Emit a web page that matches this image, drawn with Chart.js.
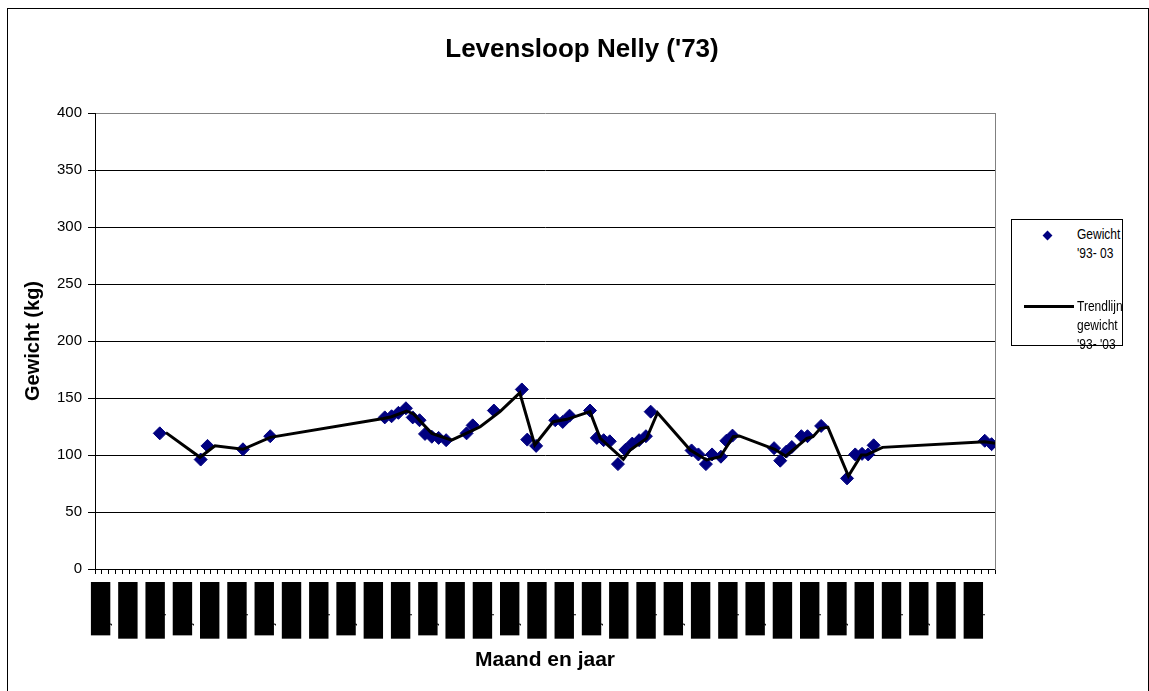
<!DOCTYPE html>
<html lang="nl">
  <head>
    <meta charset="UTF-8" />
    <title>Levensloop Nelly ('73)</title>
    <style>
      body { margin: 0; background: #fff; }
      .kader {
        position: absolute; left: 7px; top: 8px;
        width: 1142px; height: 700px;
        box-sizing: border-box; border: 1px solid #000;
      }
      .grafiek { position: absolute; left: 0; top: 0; width: 1149px; height: 691px; }
      .legenda {
        position: absolute; left: 1011px; top: 219px;
        width: 112px; height: 127px; box-sizing: border-box;
        border: 1px solid #000; background: #fff;
        font-family: Arial, "Liberation Sans", sans-serif; font-size: 15px; line-height: 19px;
      }
      .legenda .tekst { position: absolute; left: 65px; transform: scaleX(0.8); transform-origin: left top; white-space: nowrap; }
      .ruit {
        position: absolute; left: 32px; top: 12px; width: 7px; height: 7px;
        background: #000080; transform: rotate(45deg);
      }
      .lijn { position: absolute; left: 12px; top: 85px; width: 50px; height: 3px; background: #000; }
    </style>
  </head>
  <body>
    <div class="kader"></div>
    <div class="grafiek"><canvas id="myChart_gewicht" width="1149" height="691"></canvas></div>
    <div class="legenda">
      <div class="ruit"></div>
      <div class="tekst" style="top:4px">Gewicht<br>'93- 03</div>
      <div class="lijn"></div>
      <div class="tekst" style="top:76px">Trendlijn<br>gewicht<br>'93- '03</div>
    </div>

    <script src="https://cdn.jsdelivr.net/npm/chart.js@4.4.1/dist/chart.umd.min.js"></script>
    <script>
      // maanden en jaren voor de x-as (jan-93 t/m dec-03)
      const maanden = ['jan','feb','mrt','apr','mei','jun','jul','aug','sep','okt','nov','dec'];
      const jaren = ['93','94','95','96','97','98','99','00','01','02','03'];
      const maandLabels = jaren.flatMap(j => maanden.map(m => m + '-' + j));

      // gewicht metingen: maand-index (vanaf jan-93) en kg
      const gewichtMaand = [9, 15, 16, 21.2, 25.2, 42, 43, 44, 45.1, 46.1, 47.1, 47.9, 48.9, 49.9, 51,
        54, 54.9, 58, 62.1, 62.9, 64.2, 67, 68.1, 69.1, 72.1, 73.1, 74.1, 75, 76.2, 77.3, 78.3, 79.3,
        80.3, 81, 87, 88, 89.1, 90, 91.3, 92.1, 93, 99.1, 100, 100.9, 101.7, 103.1, 104, 106, 109.8,
        111, 112, 112.9, 113.7, 130, 131];
      const gewichtKg = [119, 96, 108, 105, 116.5, 133, 134, 137, 141, 133, 130.5, 118.5, 116, 115, 113,
        119, 126, 139, 157.5, 113.5, 108, 130.5, 129, 134.5, 139, 115, 113, 112, 92, 104.5, 110, 113,
        116.5, 138, 104, 100.5, 92, 100.5, 98.5, 112.5, 117, 106, 95, 103, 107, 116.5, 116.5, 125.5, 79.5,
        100.5, 101, 100.5, 108.5, 112.5, 109.5];

      // trendlijn
      const trendMaand = [9.9, 14.9, 17.1, 21.2, 25.2, 41.8, 43, 45.2, 46.2, 48.9, 51.8, 54.5, 56, 58.9,
        61.8, 64, 66.7, 68.7, 72.1, 73.6, 77, 78, 80.4, 82, 86.8, 89.2, 91.2, 93.1, 94, 99.2, 100.8,
        103.9, 104.8, 105.9, 107, 110, 111.9, 112.6, 115, 130, 131.5];
      const trendKg = [119.6, 98, 108, 105, 115.5, 132, 133.6, 138.6, 136, 119, 113, 120.5, 124.8, 138,
        154.5, 108.8, 129.2, 131.3, 138, 114.6, 96.2, 104.4, 114.6, 137.1, 104.4, 95.6, 98.5, 116, 116.7,
        105, 99, 114.6, 116, 123.4, 124.3, 81.6, 100, 100, 106.7, 111.7, 110.2];

      const yTicks = [0, 50, 100, 150, 200, 250, 300, 350, 400];

      const lettertype = 'Arial, "Liberation Sans", sans-serif';
      Chart.defaults.font.family = lettertype;
      Chart.defaults.color = '#000';

      const ctx_gewicht = document.getElementById('myChart_gewicht');

      new Chart(ctx_gewicht, {
        type: 'scatter',
        data: {
          datasets: [
            {
              label: "Trendlijn gewicht '93- '03",
              type: 'line',
              xAxisID: 'x2',
              data: trendMaand.map((m, i) => ({ x: m, y: trendKg[i] })),
              borderColor: '#000',
              borderWidth: 3,
              pointRadius: 0,
              fill: false,
              tension: 0
            },
            {
              label: "Gewicht '93- 03",
              xAxisID: 'x2',
              data: gewichtMaand.map((m, i) => ({ x: m, y: gewichtKg[i] })),
              pointStyle: 'rectRot',
              pointRadius: 6.5,
              pointHoverRadius: 6.5,
              backgroundColor: '#000080',
              borderColor: '#000080',
              borderWidth: 1
            }
          ]
        },
        options: {
          responsive: false,
          animation: false,
          layout: { padding: { left: 15, right: 0, top: 0, bottom: 0 } },
          plugins: {
            legend: { display: false },
            tooltip: { enabled: false },
            title: {
              display: true,
              text: "Levensloop Nelly ('73)",
              font: { size: 26, weight: 'bold' },
              color: '#000',
              padding: { top: 34, bottom: 47.8 }
            }
          },
          scales: {
            x: {
              type: 'category',
              labels: maandLabels,
              offset: true,
              position: 'bottom',
              grid: { offset: true, drawOnChartArea: false, tickLength: 5, color: '#000' },
              border: { color: '#000' },
              ticks: {
                autoSkip: false,
                minRotation: 90,
                maxRotation: 90,
                padding: 18,
                font: { size: 12 },
                color: '#000',
                showLabelBackdrop: true,
                backdropColor: c => (c.index % 4 === 0 ? '#000' : 'rgba(0,0,0,0)'),
                backdropPadding: { top: 7.5, bottom: -2.5, left: 10, right: 10 },
                callback: function (value, index) {
                  return index % 4 === 0 ? maandLabels[index] : '';
                }
              },
              title: {
                display: true,
                text: 'Maand en jaar',
                font: { size: 21, weight: 'bold' },
                color: '#000',
                padding: { top: 0, bottom: 18 }
              },
              afterFit: s => { s.height = 122; }
            },
            x2: {
              type: 'linear',
              display: false,
              min: -0.5,
              max: 131.5
            },
            y: {
              min: 0,
              max: 400,
              afterBuildTicks: s => { s.ticks = yTicks.map(v => ({ value: v })); },
              grid: {
                color: c => (c.tick && c.tick.value === 400 ? '#808080' : '#000'),
                tickLength: 7,
                tickColor: '#000'
              },
              border: { color: '#000' },
              ticks: { padding: 6, font: { size: 15 }, color: '#000' },
              title: {
                display: true,
                text: 'Gewicht (kg)',
                font: { size: 20, weight: 'bold' },
                color: '#000',
                padding: { top: 6, bottom: 0 }
              },
              afterFit: s => { s.width = 80; }
            },
            yRand: {
              type: 'linear',
              position: 'right',
              grid: { display: false },
              ticks: { display: false },
              border: { color: '#808080' },
              afterFit: s => { s.width = 154; }
            }
          }
        }
      });
    </script>
  </body>
</html>
